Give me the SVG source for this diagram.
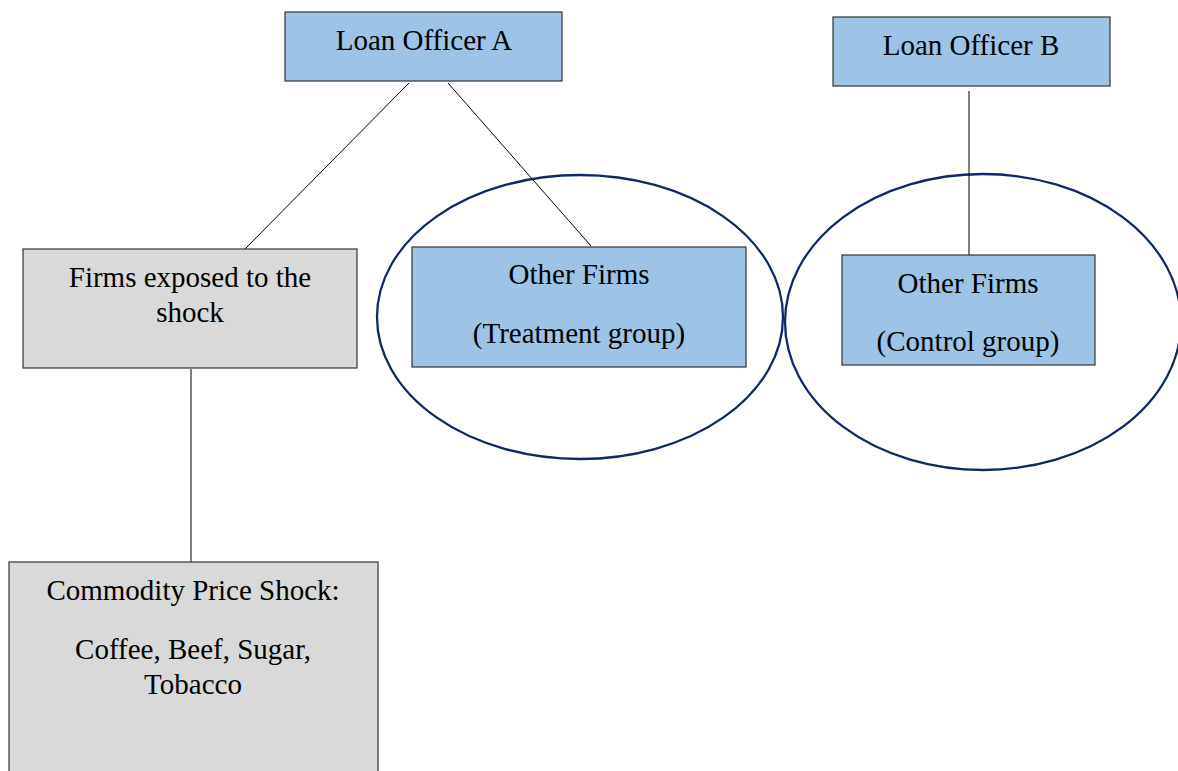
<svg xmlns="http://www.w3.org/2000/svg" width="1178" height="771" viewBox="0 0 1178 771">
<style>
.blue{fill:#9dc3e6;stroke:#333;stroke-width:1.2}
.gray{fill:#d9d9d9;stroke:#333;stroke-width:1.2}
.ell{fill:none;stroke:#0d2a66;stroke-width:2.3}
.conn line{stroke:#000;stroke-width:1}
text{font-family:"Liberation Serif","Times New Roman",serif;font-size:29px;fill:#000;text-anchor:middle}
</style>
<rect width="1178" height="771" fill="#fff"/>
<g id="ellipses">
<ellipse class="ell" cx="580" cy="317" rx="203" ry="142"/>
<ellipse class="ell" cx="983" cy="322" rx="198" ry="148"/>
</g>
<g class="conn" id="connectors">
<line x1="409" y1="83" x2="245" y2="249"/>
<line x1="448" y1="83" x2="591" y2="246"/>
<line x1="969" y1="91" x2="969" y2="255"/>
<line x1="191" y1="369" x2="191" y2="562"/>
</g>
<g id="loanA">
<rect class="blue" x="285" y="12" width="277" height="69"/>
<text x="424" y="50">Loan Officer A</text>
</g>
<g id="loanB">
<rect class="blue" x="833" y="17" width="277" height="69"/>
<text x="971" y="55">Loan Officer B</text>
</g>
<g id="exposed">
<rect class="gray" x="23" y="249" width="334" height="119"/>
<text x="190" y="287">Firms exposed to the</text>
<text x="190" y="322">shock</text>
</g>
<g id="treatment">
<rect class="blue" x="412" y="247" width="334" height="120"/>
<text x="579" y="284">Other Firms</text>
<text x="579" y="343">(Treatment group)</text>
</g>
<g id="control">
<rect class="blue" x="842" y="255" width="253" height="110"/>
<text x="968" y="293">Other Firms</text>
<text x="968" y="351">(Control group)</text>
</g>
<g id="commodity">
<rect class="gray" x="9" y="562" width="369" height="220"/>
<text x="193" y="600">Commodity Price Shock:</text>
<text x="193" y="659">Coffee, Beef, Sugar,</text>
<text x="193" y="694">Tobacco</text>
</g>
</svg>
